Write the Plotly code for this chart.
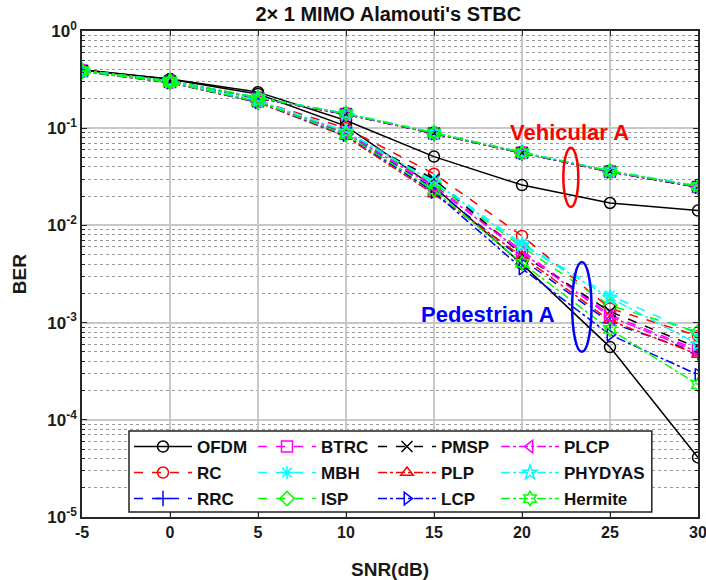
import plotly.graph_objects as go

# SNR grid (dB)
snr = [-5, 0, 5, 10, 15, 20, 25, 30]

# BER, Vehicular A channel
veh_ofdm    = [0.400, 0.320, 0.235, 0.120, 0.0510, 0.0260, 0.0170, 0.0142]
veh_rc      = [0.392, 0.306, 0.206, 0.141, 0.0890, 0.0560, 0.0360, 0.0250]
veh_rrc     = [0.390, 0.304, 0.204, 0.139, 0.0880, 0.0555, 0.0356, 0.0248]
veh_btrc    = [0.391, 0.305, 0.205, 0.140, 0.0885, 0.0558, 0.0358, 0.0249]
veh_mbh     = [0.393, 0.307, 0.207, 0.142, 0.0900, 0.0565, 0.0364, 0.0254]
veh_isp     = [0.392, 0.306, 0.206, 0.141, 0.0895, 0.0562, 0.0362, 0.0252]
veh_pmsp    = [0.390, 0.305, 0.205, 0.140, 0.0885, 0.0557, 0.0357, 0.0249]
veh_plp     = [0.389, 0.303, 0.203, 0.139, 0.0880, 0.0553, 0.0355, 0.0247]
veh_lcp     = [0.390, 0.304, 0.204, 0.139, 0.0882, 0.0555, 0.0356, 0.0248]
veh_plcp    = [0.391, 0.305, 0.205, 0.140, 0.0886, 0.0558, 0.0358, 0.0250]
veh_phydyas = [0.393, 0.307, 0.207, 0.142, 0.0902, 0.0566, 0.0365, 0.0255]
veh_hermite = [0.392, 0.306, 0.206, 0.141, 0.0893, 0.0561, 0.0361, 0.0252]

# BER, Pedestrian A channel
ped_ofdm    = [0.398, 0.318, 0.225, 0.105, 0.0250, 0.00400, 5.6e-4, 4.1e-5]
ped_rc      = [0.388, 0.300, 0.192, 0.100, 0.0340, 0.00780, 1.40e-3, 7.3e-4]
ped_rrc     = [0.385, 0.296, 0.186, 0.087, 0.0240, 0.00450, 1.00e-3, 4.9e-4]
ped_btrc    = [0.387, 0.298, 0.189, 0.090, 0.0260, 0.00550, 1.20e-3, 5.2e-4]
ped_mbh     = [0.389, 0.301, 0.193, 0.093, 0.0290, 0.00650, 1.90e-3, 7.6e-4]
ped_isp     = [0.388, 0.299, 0.190, 0.091, 0.0270, 0.00600, 1.50e-3, 8.0e-4]
ped_pmsp    = [0.386, 0.297, 0.188, 0.089, 0.0300, 0.00500, 1.30e-3, 5.5e-4]
ped_plp     = [0.384, 0.294, 0.184, 0.082, 0.0210, 0.00480, 1.05e-3, 4.7e-4]
ped_lcp     = [0.385, 0.295, 0.185, 0.085, 0.0220, 0.00360, 7.50e-4, 2.9e-4]
ped_plcp    = [0.387, 0.298, 0.189, 0.090, 0.0250, 0.00530, 1.15e-3, 5.0e-4]
ped_phydyas = [0.389, 0.301, 0.193, 0.092, 0.0280, 0.00630, 1.80e-3, 6.0e-4]
ped_hermite = [0.386, 0.296, 0.187, 0.086, 0.0230, 0.00410, 8.50e-4, 2.3e-4]

names = ["OFDM", "RC", "RRC", "BTRC", "MBH", "ISP",
         "PMSP", "PLP", "LCP", "PLCP", "PHYDYAS", "Hermite"]
veh_series = [veh_ofdm, veh_rc, veh_rrc, veh_btrc, veh_mbh, veh_isp,
              veh_pmsp, veh_plp, veh_lcp, veh_plcp, veh_phydyas, veh_hermite]
ped_series = [ped_ofdm, ped_rc, ped_rrc, ped_btrc, ped_mbh, ped_isp,
              ped_pmsp, ped_plp, ped_lcp, ped_plcp, ped_phydyas, ped_hermite]

y_tickvals = [1e-5, 1e-4, 1e-3, 1e-2, 1e-1, 1e0]
y_ticktext = ["10<sup>-5</sup>", "10<sup>-4</sup>", "10<sup>-3</sup>",
              "10<sup>-2</sup>", "10<sup>-1</sup>", "10<sup>0</sup>"]

# line colour, dash and marker per pulse shape
styles = {
    "OFDM":    ("#000000", "solid",   "circle-open"),
    "RC":      ("#FF0000", "dash",    "circle-open"),
    "RRC":     ("#0000FF", "dash",    "cross-thin-open"),
    "BTRC":    ("#FF00FF", "dash",    "square-open"),
    "MBH":     ("#00FFFF", "dash",    "asterisk-open"),
    "ISP":     ("#00FF00", "dash",    "diamond-open"),
    "PMSP":    ("#000000", "dash",    "x-thin-open"),
    "PLP":     ("#FF0000", "dashdot", "triangle-up-open"),
    "LCP":     ("#0000FF", "dashdot", "triangle-right-open"),
    "PLCP":    ("#FF00FF", "dashdot", "triangle-left-open"),
    "PHYDYAS": ("#00FFFF", "dashdot", "star-open"),
    "Hermite": ("#00FF00", "dashdot", "hexagram-open"),
}

# legend grid: 4 columns x 3 rows, entries run down each column
col_x = [0.0763, 0.2776, 0.4724, 0.6721]
row_y = [0.1811, 0.1276, 0.0741]

FONT = "Arial, Liberation Sans, sans-serif"
INK = "#1A1A1A"
fig = go.Figure()

legend_layouts = {}
for i, name in enumerate(names):
    color, dash, symbol = styles[name]
    lid = "legend" if i == 0 else f"legend{i + 1}"
    legend_layouts[lid] = dict(
        x=col_x[i // 3], y=row_y[i % 3], xanchor="left", yanchor="top",
        orientation="v", bgcolor="rgba(0,0,0,0)", borderwidth=0,
        font=dict(family=FONT, size=17, color="#111111", weight="bold"),
        itemwidth=58,
    )
    for ch, data in (("veh", veh_series[i]), ("ped", ped_series[i])):
        fig.add_trace(go.Scatter(
            x=snr, y=data, mode="lines+markers", name=name,
            legend=lid, showlegend=(ch == "ped"),
            line=dict(color=color, width=1.5, dash=dash),
            marker=dict(symbol=symbol, size=11, color=color,
                        line=dict(color=color, width=1.5)),
        ))

# legend frame shared by all entries
fig.add_shape(type="rect", xref="paper", yref="paper", layer="above",
              x0=0.0763, x1=0.925, y0=0.0103, y1=0.177,
              fillcolor="white", line=dict(color="#222222", width=1.5))

# channel group ellipses
fig.add_shape(type="circle", xref="x", yref="y",
              x0=22.35, x1=23.2, y0=0.0155, y1=0.063,
              line=dict(color="#FF0000", width=2.5))
fig.add_shape(type="circle", xref="x", yref="y",
              x0=22.85, x1=23.95, y0=5.0e-4, y1=4.2e-3,
              line=dict(color="#0000FF", width=2.5))

fig.add_annotation(x=22.7, y=-1.04, xref="x", yref="y", text="Vehicular A",
                   showarrow=False,
                   font=dict(family=FONT, size=22, color="#FF0000", weight="bold"))
fig.add_annotation(x=18.07, y=-2.92, xref="x", yref="y", text="Pedestrian A",
                   showarrow=False,
                   font=dict(family=FONT, size=22, color="#0000FF", weight="bold"))

# axis titles
fig.add_annotation(x=0.5, y=-0.108, xref="paper", yref="paper", text="SNR(dB)",
                   showarrow=False, yanchor="middle",
                   font=dict(family=FONT, size=19, color=INK, weight="bold"))
fig.add_annotation(x=-0.102, y=0.5, xref="paper", yref="paper", text="BER",
                   showarrow=False, textangle=-90, xanchor="center",
                   font=dict(family=FONT, size=19, color=INK, weight="bold"))

fig.update_layout(
    width=706, height=580,
    margin=dict(l=82, r=8, t=31, b=63),
    paper_bgcolor="white", plot_bgcolor="white",
    font=dict(family=FONT, size=16, color=INK),
    title=dict(text="2× 1 MIMO Alamouti's STBC", x=0.55, xanchor="center",
               y=0.976, yanchor="middle",
               font=dict(family=FONT, size=20, color="#111111", weight="bold")),
    showlegend=True,
    **legend_layouts,
)

fig.update_xaxes(
    range=[-5, 30], tickvals=snr, ticktext=[str(v) for v in snr],
    tickfont=dict(family=FONT, size=16, color=INK, weight="bold"),
    automargin=False, ticklabeloverflow="allow",
    showline=True, linecolor="#262626", linewidth=1.5, mirror="ticks",
    ticks="inside", ticklen=5, tickcolor="#262626",
    showgrid=True, gridcolor="#C8C8C8", gridwidth=1.5, zeroline=False,
)
fig.update_yaxes(
    type="log", range=[-5, 0], tickvals=y_tickvals, ticktext=y_ticktext,
    tickfont=dict(family=FONT, size=17, color=INK, weight="bold"),
    automargin=False,
    showline=True, linecolor="#262626", linewidth=1.5, mirror="ticks",
    ticks="inside", ticklen=5, tickcolor="#262626",
    showgrid=True, gridcolor="#C8C8C8", gridwidth=1.5, zeroline=False,
    minor=dict(dtick="D1", showgrid=True, gridcolor="#9A9A9A", griddash="dot",
               gridwidth=1, ticks="inside", ticklen=3, tickcolor="#262626"),
)

fig.write_html("out.html")
